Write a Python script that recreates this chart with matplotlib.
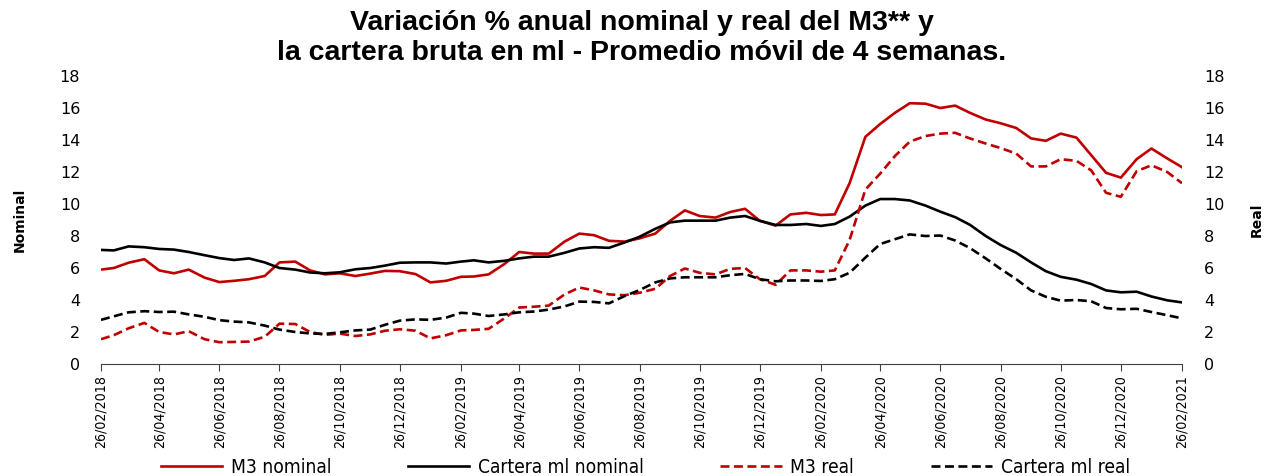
import pandas as pd
import matplotlib
matplotlib.use('Agg')
import matplotlib.pyplot as plt
import matplotlib.dates as mdates
from matplotlib import font_manager

# fechas cada ~15 dias (26 y 11 de cada mes)
fechas = []
for m in pd.date_range('2018-02-01', '2021-02-01', freq='MS'):
    if len(fechas) > 0:
        fechas.append(m + pd.Timedelta(days=10))
    fechas.append(m + pd.Timedelta(days=25))
fechas = pd.to_datetime(fechas)

m3_nominal = [5.9, 6.0, 6.33, 6.55, 5.85, 5.67, 5.9, 5.4, 5.12, 5.2, 5.3, 5.5, 6.35, 6.4, 5.85,
              5.6, 5.67, 5.5, 5.65, 5.82, 5.8, 5.62, 5.1, 5.2, 5.45, 5.47, 5.6, 6.25, 7.0, 6.9,
              6.9, 7.65, 8.15, 8.05, 7.7, 7.65, 7.85, 8.15, 8.95, 9.6, 9.25, 9.15, 9.5, 9.7, 8.95,
              8.65, 9.35, 9.45, 9.31, 9.35, 11.3, 14.2, 15.0, 15.7, 16.3, 16.27, 16.0, 16.15, 15.7,
              15.28, 15.05, 14.75, 14.1, 13.95, 14.4, 14.15, 13.05, 11.95, 11.65, 12.8, 13.47,
              12.85, 12.3]

cartera_nominal = [7.13, 7.1, 7.35, 7.3, 7.19, 7.15, 7.0, 6.8, 6.62, 6.5, 6.6, 6.35, 6.0, 5.9, 5.72,
                   5.67, 5.73, 5.92, 6.0, 6.15, 6.33, 6.35, 6.35, 6.28, 6.4, 6.48, 6.35, 6.45, 6.6,
                   6.71, 6.71, 6.95, 7.22, 7.3, 7.26, 7.6, 7.95, 8.45, 8.85, 8.96, 8.96, 8.96, 9.15,
                   9.25, 8.95, 8.69, 8.69, 8.75, 8.63, 8.75, 9.21, 9.9, 10.31, 10.31, 10.22, 9.9,
                   9.52, 9.18, 8.7, 8.0, 7.44, 6.95, 6.35, 5.8, 5.45, 5.27, 5.0, 4.6, 4.48, 4.52,
                   4.22, 3.98, 3.85]

m3_real = [1.55, 1.8, 2.23, 2.57, 2.0, 1.85, 2.05, 1.55, 1.36, 1.38, 1.4, 1.7, 2.52, 2.5, 2.0,
           1.82, 1.9, 1.75, 1.85, 2.08, 2.17, 2.08, 1.6, 1.8, 2.1, 2.13, 2.2, 2.85, 3.53, 3.58,
           3.65, 4.35, 4.78, 4.6, 4.35, 4.3, 4.45, 4.7, 5.5, 5.97, 5.7, 5.6, 5.95, 6.0, 5.3,
           4.95, 5.85, 5.85, 5.77, 5.85, 7.75, 10.9, 11.9, 13.0, 13.9, 14.25, 14.4, 14.45, 14.1,
           13.78, 13.5, 13.15, 12.35, 12.35, 12.8, 12.7, 12.1, 10.7, 10.45, 12.05, 12.42, 12.0,
           11.3]

cartera_real = [2.76, 2.98, 3.23, 3.3, 3.25, 3.27, 3.1, 2.95, 2.74, 2.65, 2.6, 2.4, 2.15, 2.0, 1.91,
                1.88, 1.98, 2.1, 2.15, 2.45, 2.71, 2.79, 2.76, 2.9, 3.2, 3.15, 3.0, 3.1, 3.23, 3.28,
                3.4, 3.6, 3.9, 3.88, 3.79, 4.25, 4.62, 5.1, 5.35, 5.42, 5.42, 5.42, 5.55, 5.63, 5.3,
                5.17, 5.22, 5.22, 5.19, 5.3, 5.7, 6.65, 7.5, 7.8, 8.1, 8.0, 8.03, 7.72, 7.25, 6.6,
                5.95, 5.3, 4.6, 4.2, 3.96, 4.0, 3.92, 3.5, 3.42, 3.45, 3.25, 3.05, 2.85]

# fuente estrecha si existe
fuentes = font_manager.fontManager.ttflist
estrecha = {'family': 'DejaVu Sans', 'stretch': 'normal'}
for f in fuentes:
    if f.name == 'Liberation Sans Narrow':
        estrecha = {'family': 'Liberation Sans Narrow', 'stretch': 'normal'}
        break
    if f.name == 'DejaVu Sans' and f.stretch == 'condensed':
        estrecha = {'family': 'DejaVu Sans', 'stretch': 'condensed'}

rojo = '#C00000'
dash = (0, (3.4, 1.7))

fig = plt.figure(figsize=(12.7, 4.76), dpi=100)
ax = fig.add_axes([0.0795, 0.2353, 0.8512, 0.605])

ax.plot(fechas, m3_nominal, color=rojo, lw=1.9, label='M3 nominal')
ax.plot(fechas, cartera_nominal, color='black', lw=1.9, label='Cartera ml nominal')
ax.plot(fechas, m3_real, color=rojo, lw=1.9, ls=dash, label='M3 real')
ax.plot(fechas, cartera_real, color='black', lw=1.9, ls=dash, label='Cartera ml real')

ax.set_xlim(pd.Timestamp('2018-02-26'), pd.Timestamp('2021-02-26'))
ax.set_ylim(0, 18)
ax.set_yticks(range(0, 19, 2))

ticks = pd.date_range('2018-02-01', '2021-02-01', freq='2MS') + pd.Timedelta(days=25)
ax.set_xticks(ticks)
ax.xaxis.set_major_formatter(mdates.DateFormatter('%d/%m/%Y'))
ax.tick_params(axis='x', length=5, color='#404040', pad=3)
for t in ax.get_xticklabels():
    t.set_rotation(90)
    t.set_fontsize(10.2 if estrecha['family'] != 'DejaVu Sans' or estrecha['stretch'] == 'condensed' else 9.0)
    t.set_family(estrecha['family'])
    t.set_stretch(estrecha['stretch'])
ax.tick_params(axis='y', length=0, labelsize=11.5, pad=15)

for s in ['top', 'right', 'left']:
    ax.spines[s].set_visible(False)
ax.spines['bottom'].set_color('#404040')

ax2 = ax.twinx()
ax2.set_ylim(0, 18)
ax2.set_yticks(range(0, 19, 2))
ax2.tick_params(axis='y', which='major', length=0, labelsize=11.5, pad=16,
                labelright=True, labelleft=False)
for s in ['top', 'right', 'left', 'bottom']:
    ax2.spines[s].set_visible(False)

ax.set_ylabel('Nominal', fontsize=10, fontweight='bold', labelpad=24)
ax2.set_ylabel('Real', fontsize=10, fontweight='bold', rotation=90, labelpad=18)

fig.suptitle('Variación % anual nominal y real del M3** y\nla cartera bruta en ml - Promedio móvil de 4 semanas.',
             fontsize=20.5, fontweight='bold',
             family=['Liberation Sans', 'DejaVu Sans'], x=0.5055, y=0.98, linespacing=1.2)

fig.legend(loc='center', bbox_to_anchor=(0.508, 0.018), ncol=4, frameon=False,
           handlelength=3.2, columnspacing=4.0, handletextpad=0.45,
           prop={'family': estrecha['family'], 'stretch': estrecha['stretch'], 'size': 13.8})

fig.savefig('out.png', dpi=100)
